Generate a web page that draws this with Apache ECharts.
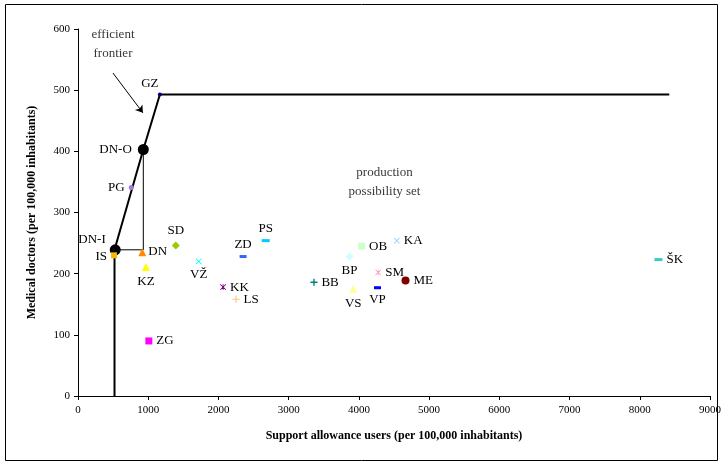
<!DOCTYPE html>
<html><head><meta charset="utf-8">
<script src="https://cdn.jsdelivr.net/npm/echarts@6/dist/echarts.min.js"></script>
<style>html,body{margin:0;padding:0;background:#fff}#c{width:724px;height:468px}</style>
</head><body><div id="c"></div>
<script>
// ---- data ----
const names = ['GZ','DN-O','DN-I','PG','IS','DN','KZ','SD','VŽ','ZD','PS','KK','LS','ZG','BB','BP','OB','VS','SM','VP','KA','ME','ŠK'];
const supportUsers = [1166, 930, 530, 758, 512, 915, 967, 1393, 1720, 2351, 2673, 2066, 2251, 1009, 3360, 3867, 4038, 3920, 4275, 4265, 4540, 4664, 8266];
const medicalDoctors = [493, 403, 239, 341, 230, 235, 211, 246, 220, 228, 254, 178, 158, 90, 186, 228, 245, 175, 202, 177, 254, 189, 223];
const frontierX = [520, 520, 930, 1166, 8420];
const frontierY = [0, 239, 403, 493, 493];
const projX = [530, 930, 930];
const projY = [239, 239, 403];
const arrowX = [498, 924];
const arrowY = [528, 463];
const annotations = [
  {text: 'efficient\nfrontier', x: 498, y: 575},
  {text: 'production\npossibility set', x: 4365, y: 350}
];
const xAxisName = 'Support allowance users (per 100,000 inhabitants)';
const yAxisName = 'Medical doctors (per 100,000 inhabitants)';

// ---- styles ----
const P_X = 'path://M1,0L5,4L9,0L10,1L6,5L10,9L9,10L5,6L1,10L0,9L4,5L0,1Z';
const P_STAR = 'path://M1,0L5,4L9,0L10,1L6,5L10,9L9,10L5,6L1,10L0,9L4,5L0,1Z M4.4,0H5.6V10H4.4Z';
const P_PLUS = 'path://M4,0H6V4H10V6H6V10H4V6H0V4H4Z';
const P_DASH = 'path://M0,0H10V3H0Z';
const styles = {
  'GZ':  {s:'circle', c:'#000080', z:4, p:'top', o:[-10,2]},
  'DN-O':{s:'circle', c:'#000000', z:11, p:'left', o:[-2,0]},
  'DN-I':{s:'circle', c:'#000000', z:11, p:'left', o:[0,-10]},
  'PG':  {s:'circle', c:'#a57be0', z:5, p:'left', o:[0,0]},
  'IS':  {s:'rect', c:'#f5b800', z:6, p:'left', o:[0,1]},
  'DN':  {s:'triangle', c:'#ff8c00', z:8, p:'right', o:[-2,-1]},
  'KZ':  {s:'triangle', c:'#ffff00', z:8, p:'bottom', o:[0,0]},
  'SD':  {s:'diamond', c:'#99cc00', z:8, p:'top', o:[0,0]},
  'VŽ':  {s:P_X, c:'#00ffff', z:6, p:'bottom', o:[0,0]},
  'ZD':  {s:P_DASH, c:'#3366ff', z:[7,3], p:'top', o:[0,0]},
  'PS':  {s:P_DASH, c:'#00ccff', z:[8,3], p:'top', o:[0,0]},
  'KK':  {s:P_STAR, c:'#800080', z:6, p:'right', o:[0,0]},
  'LS':  {s:P_PLUS, c:'#ffcc99', z:7, p:'right', o:[0,0]},
  'ZG':  {s:'rect', c:'#ff00ff', z:7, p:'right', o:[0,0]},
  'BB':  {s:P_PLUS, c:'#008080', z:7, p:'right', o:[0,0]},
  'BP':  {s:'diamond', c:'#ccffff', z:8, p:'bottom', o:[0,0]},
  'OB':  {s:'rect', c:'#ccffcc', z:7, p:'right', o:[0,0]},
  'VS':  {s:'triangle', c:'#ffff99', z:8, p:'bottom', o:[0,0]},
  'SM':  {s:P_STAR, c:'#ff99cc', z:6, p:'right', o:[0,0]},
  'VP':  {s:P_DASH, c:'#0000ff', z:[7,3], p:'bottom', o:[0,0]},
  'KA':  {s:P_X, c:'#99ccff', z:6, p:'right', o:[0,0]},
  'ME':  {s:'circle', c:'#800000', z:8, p:'right', o:[0,0]},
  'ŠK':  {s:P_DASH, c:'#33cccc', z:[8,3], p:'right', o:[0,0]}
};

const FONT = '"Liberation Serif", "DejaVu Serif", serif';
const zip = (a, b) => a.map((v, i) => [v, b[i]]);

const pointData = names.map((n, i) => {
  const st = styles[n];
  return {
    name: n,
    value: [supportUsers[i], medicalDoctors[i]],
    symbol: st.s,
    symbolSize: st.z,
    itemStyle: {color: st.c, opacity: 1},
    label: {show: true, position: st.p, offset: st.o, formatter: n}
  };
});

const chart = echarts.init(document.getElementById('c'), null, {renderer: 'canvas'});
chart.setOption({
  animation: false,
  backgroundColor: '#fff',
  textStyle: {fontFamily: FONT},
  grid: {left: 78, right: 14, top: 29, bottom: 72, containLabel: false},
  graphic: [{
    type: 'rect', shape: {x: 5.5, y: 4.5, width: 712, height: 456},
    style: {fill: 'none', stroke: '#000', lineWidth: 1}, z: -1
  }],
  xAxis: {
    type: 'value', min: 0, max: 9000, interval: 1000,
    name: xAxisName, nameLocation: 'middle', nameGap: 34,
    nameTextStyle: {fontFamily: FONT, fontWeight: 'bold', fontSize: 12, color: '#000'},
    axisLine: {show: true, onZero: false, lineStyle: {color: '#000', width: 1}},
    axisTick: {show: true, inside: false, length: 4, lineStyle: {color: '#000'}},
    axisLabel: {fontFamily: FONT, fontSize: 11, color: '#000', margin: 9, formatter: v => String(v)},
    splitLine: {show: false}
  },
  yAxis: {
    type: 'value', min: 0, max: 600, interval: 100,
    name: yAxisName, nameLocation: 'middle', nameGap: 40,
    nameTextStyle: {fontFamily: FONT, fontWeight: 'bold', fontSize: 12, color: '#000'},
    axisLine: {show: true, lineStyle: {color: '#000', width: 1}},
    axisTick: {show: true, inside: false, length: 4, lineStyle: {color: '#000'}},
    axisLabel: {fontFamily: FONT, fontSize: 11, color: '#000', margin: 8, formatter: v => String(v)},
    splitLine: {show: false}
  },
  series: [
    {
      type: 'line', data: zip(frontierX, frontierY), symbol: 'none', showSymbol: false,
      lineStyle: {color: '#000', width: 2}, itemStyle: {color: '#000'}, z: 2, silent: true
    },
    {
      type: 'line', data: zip(projX, projY), symbol: 'none', showSymbol: false,
      lineStyle: {color: '#000', width: 1}, itemStyle: {color: '#000'}, z: 2, silent: true
    },
    {
      type: 'lines', coordinateSystem: 'cartesian2d', silent: true,
      symbol: ['none', 'arrow'], symbolSize: 7,
      lineStyle: {color: '#000', width: 1, opacity: 1},
      data: [{coords: zip(arrowX, arrowY)}], z: 2
    },
    {
      type: 'scatter', data: pointData, z: 5,
      label: {fontFamily: FONT, fontSize: 13, color: '#000', distance: 4}
    },
    {
      type: 'scatter', symbolSize: 0, silent: true,
      data: annotations.map(a => ({value: [a.x, a.y], label: {show: true, formatter: a.text}})),
      label: {position: 'inside', fontFamily: FONT, fontSize: 13, lineHeight: 19, color: '#000', align: 'center'}
    }
  ]
});
</script>
</body></html>
